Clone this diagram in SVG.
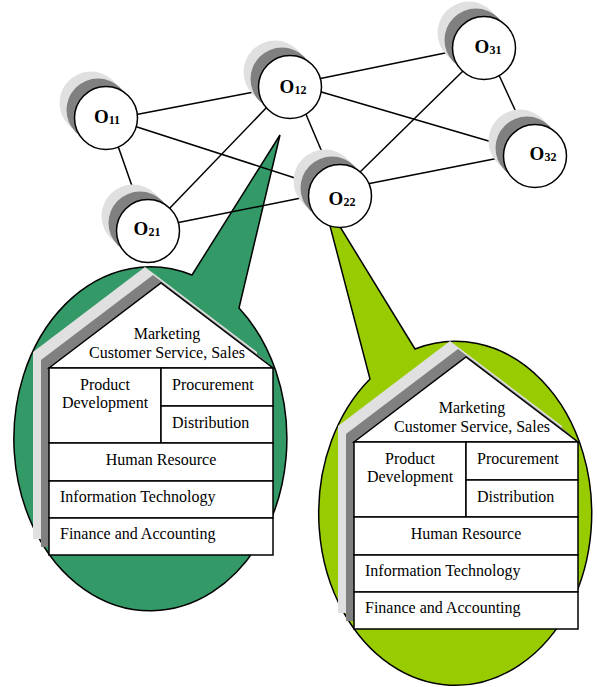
<svg xmlns="http://www.w3.org/2000/svg" width="597" height="687" viewBox="0 0 597 687">
<style>
.callout{stroke:#000;stroke-width:1.5;stroke-linejoin:miter}
.sh1{fill:#e0e0e0}
.sh2{fill:#808080}
.box{fill:#fff;stroke:#000;stroke-width:1.5}
.t{font-family:"Liberation Serif","Times New Roman",serif;font-size:16px;fill:#000}
.m{text-anchor:middle}
.edge{stroke:#000;stroke-width:1.5;fill:none}
.nc{fill:#fff;stroke:#000;stroke-width:1.5}
.nl{font-family:"Liberation Serif","Times New Roman",serif;font-weight:bold;font-size:19px;fill:#000;text-anchor:middle}
.sub{font-size:12px}
</style>
<defs>
<path id="houseShape" d="M49,368 L161,283 L273,368 L273,555 L49,555 Z"/>
</defs>

<g id="callout1">
<path class="callout" fill="#339966" d="M192,275 L280,135 L239,308 A136.5,172 0 1 1 192,275 Z"/>
</g>
<g id="callout2">
<path class="callout" fill="#99cc00" d="M370,379 L323,199 L415,349 A136.5,172 0 1 1 370,379 Z"/>
</g>

<g id="house1">
<use href="#houseShape" class="sh1" transform="translate(-16,-16)"/>
<use href="#houseShape" class="sh2" transform="translate(-8,-8)"/>
<path class="box" d="M49,368 L161,283 L273,368 Z"/>
<rect class="box" x="49" y="368" width="112" height="75"/>
<rect class="box" x="161" y="368" width="112" height="38"/>
<rect class="box" x="161" y="406" width="112" height="37"/>
<rect class="box" x="49" y="443" width="224" height="38"/>
<rect class="box" x="49" y="481" width="224" height="37"/>
<rect class="box" x="49" y="518" width="224" height="37"/>
<text class="t m" x="167" y="339">Marketing</text>
<text class="t m" x="167" y="358">Customer Service, Sales</text>
<text class="t m" x="105" y="390">Product</text>
<text class="t m" x="105" y="408">Development</text>
<text class="t" x="172" y="390">Procurement</text>
<text class="t" x="172" y="428">Distribution</text>
<text class="t m" x="161" y="465">Human Resource</text>
<text class="t" x="60" y="502">Information Technology</text>
<text class="t" x="60" y="539">Finance and Accounting</text>
</g>

<g id="house2" transform="translate(305,74)">
<use href="#houseShape" class="sh1" transform="translate(-16,-16)"/>
<use href="#houseShape" class="sh2" transform="translate(-8,-8)"/>
<path class="box" d="M49,368 L161,283 L273,368 Z"/>
<rect class="box" x="49" y="368" width="112" height="75"/>
<rect class="box" x="161" y="368" width="112" height="38"/>
<rect class="box" x="161" y="406" width="112" height="37"/>
<rect class="box" x="49" y="443" width="224" height="38"/>
<rect class="box" x="49" y="481" width="224" height="37"/>
<rect class="box" x="49" y="518" width="224" height="37"/>
<text class="t m" x="167" y="339">Marketing</text>
<text class="t m" x="167" y="358">Customer Service, Sales</text>
<text class="t m" x="105" y="390">Product</text>
<text class="t m" x="105" y="408">Development</text>
<text class="t" x="172" y="390">Procurement</text>
<text class="t" x="172" y="428">Distribution</text>
<text class="t m" x="161" y="465">Human Resource</text>
<text class="t" x="60" y="502">Information Technology</text>
<text class="t" x="60" y="539">Finance and Accounting</text>
</g>

<g id="connectors">
<line class="edge" x1="134" y1="115" x2="254" y2="92"/>
<line class="edge" x1="118" y1="146" x2="132" y2="186"/>
<line class="edge" x1="134" y1="126" x2="295" y2="178"/>
<line class="edge" x1="268" y1="106" x2="168" y2="210"/>
<line class="edge" x1="305" y1="112" x2="322" y2="152"/>
<line class="edge" x1="318" y1="79" x2="450" y2="52"/>
<line class="edge" x1="318" y1="91" x2="492" y2="142"/>
<line class="edge" x1="176" y1="223" x2="301" y2="198"/>
<line class="edge" x1="357" y1="175" x2="465" y2="69"/>
<line class="edge" x1="367" y1="184" x2="499" y2="158"/>
<line class="edge" x1="498" y1="73" x2="516" y2="112"/>
</g>

<g id="O11">
<circle class="sh1" cx="91" cy="103" r="31.5"/>
<circle class="sh2" cx="98" cy="110" r="31.5"/>
<circle class="nc" cx="106" cy="118" r="31.5"/>
<text class="nl" x="107" y="123">O<tspan class="sub" dy="1">11</tspan></text>
</g>
<g id="O12">
<circle class="sh1" cx="275" cy="72" r="31.5"/>
<circle class="sh2" cx="282" cy="79" r="31.5"/>
<circle class="nc" cx="290" cy="87" r="31.5"/>
<text class="nl" x="293" y="93">O<tspan class="sub" dy="1">12</tspan></text>
</g>
<g id="O21">
<circle class="sh1" cx="133" cy="216" r="31.5"/>
<circle class="sh2" cx="140" cy="223" r="31.5"/>
<circle class="nc" cx="148" cy="231" r="31.5"/>
<text class="nl" x="147" y="235">O<tspan class="sub" dy="1">21</tspan></text>
</g>
<g id="O22">
<circle class="sh1" cx="325" cy="181" r="31.5"/>
<circle class="sh2" cx="332" cy="188" r="31.5"/>
<circle class="nc" cx="340" cy="196" r="31.5"/>
<text class="nl" x="342" y="205">O<tspan class="sub" dy="1">22</tspan></text>
</g>
<g id="O31">
<circle class="sh1" cx="469" cy="33" r="31.5"/>
<circle class="sh2" cx="476" cy="40" r="31.5"/>
<circle class="nc" cx="484" cy="48" r="31.5"/>
<text class="nl" x="488" y="53">O<tspan class="sub" dy="1">31</tspan></text>
</g>
<g id="O32">
<circle class="sh1" cx="520" cy="141" r="31.5"/>
<circle class="sh2" cx="527" cy="148" r="31.5"/>
<circle class="nc" cx="535" cy="156" r="31.5"/>
<text class="nl" x="543" y="160">O<tspan class="sub" dy="1">32</tspan></text>
</g>
</svg>
